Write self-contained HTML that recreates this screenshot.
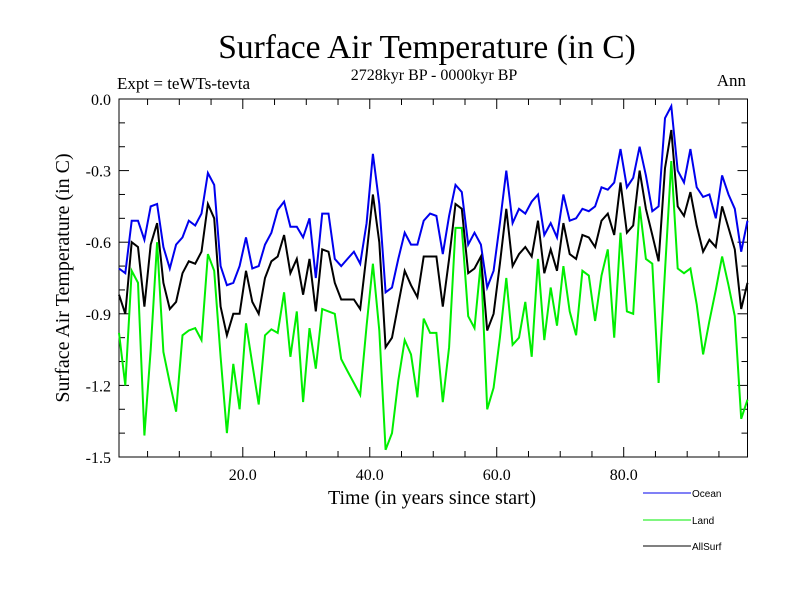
<!DOCTYPE html>
<html><head><meta charset="utf-8"><style>
body{margin:0;background:#fff}
svg text{font-family:"Liberation Serif",serif}
</style></head><body>
<svg id="chart" width="800" height="600" xmlns="http://www.w3.org/2000/svg">
<rect width="800" height="600" fill="#fff"/>
<text x="427" y="58" font-size="33.5" text-anchor="middle">Surface Air Temperature (in C)</text>
<text x="434" y="80" font-size="16" text-anchor="middle">2728kyr BP - 0000kyr BP</text>
<text x="117" y="89" font-size="17">Expt = teWTs-tevta</text>
<text x="746" y="86" font-size="17" text-anchor="end">Ann</text>
<text x="432" y="504" font-size="20" text-anchor="middle">Time (in years since start)</text>
<text transform="translate(69,278) rotate(-90)" font-size="20" text-anchor="middle">Surface Air Temperature (in C)</text>
<g id="axes"></g>
<g id="series"></g>
<g id="legend"></g>
</svg>
<script>
const ocean=[-0.71,-0.73,-0.51,-0.51,-0.59,-0.45,-0.44,-0.62,-0.71,-0.61,-0.58,-0.51,-0.53,-0.48,-0.31,-0.36,-0.70,-0.78,-0.77,-0.70,-0.58,-0.71,-0.70,-0.61,-0.56,-0.465,-0.43,-0.535,-0.535,-0.58,-0.50,-0.75,-0.48,-0.48,-0.67,-0.70,-0.67,-0.64,-0.69,-0.52,-0.23,-0.44,-0.81,-0.79,-0.67,-0.56,-0.61,-0.61,-0.51,-0.48,-0.49,-0.65,-0.49,-0.36,-0.39,-0.61,-0.56,-0.61,-0.79,-0.72,-0.52,-0.30,-0.52,-0.46,-0.48,-0.43,-0.40,-0.57,-0.52,-0.58,-0.40,-0.51,-0.50,-0.46,-0.47,-0.45,-0.37,-0.38,-0.35,-0.21,-0.37,-0.33,-0.20,-0.32,-0.47,-0.45,-0.08,-0.03,-0.30,-0.35,-0.21,-0.37,-0.41,-0.40,-0.50,-0.32,-0.40,-0.46,-0.64,-0.51];
const land=[-0.98,-1.20,-0.72,-0.77,-1.41,-1.05,-0.60,-1.06,-1.19,-1.31,-0.99,-0.97,-0.96,-1.01,-0.65,-0.72,-1.08,-1.40,-1.11,-1.30,-0.94,-1.11,-1.28,-0.99,-0.965,-0.98,-0.81,-1.08,-0.89,-1.27,-0.96,-1.13,-0.88,-0.89,-0.90,-1.09,-1.14,-1.19,-1.24,-0.95,-0.69,-0.97,-1.47,-1.40,-1.18,-1.01,-1.07,-1.25,-0.92,-0.98,-0.98,-1.27,-1.04,-0.54,-0.54,-0.91,-0.96,-0.68,-1.30,-1.21,-1.00,-0.75,-1.03,-1.00,-0.85,-1.08,-0.67,-1.01,-0.79,-0.95,-0.70,-0.89,-0.99,-0.72,-0.74,-0.93,-0.74,-0.63,-1.00,-0.56,-0.89,-0.90,-0.45,-0.67,-0.69,-1.19,-0.72,-0.26,-0.71,-0.73,-0.71,-0.86,-1.07,-0.93,-0.80,-0.66,-0.78,-0.91,-1.34,-1.26];
const allSurf=[-0.82,-0.90,-0.60,-0.62,-0.87,-0.61,-0.52,-0.77,-0.88,-0.85,-0.73,-0.68,-0.69,-0.64,-0.44,-0.50,-0.87,-0.99,-0.90,-0.90,-0.72,-0.85,-0.90,-0.75,-0.68,-0.66,-0.57,-0.73,-0.67,-0.82,-0.67,-0.89,-0.63,-0.64,-0.77,-0.84,-0.84,-0.84,-0.88,-0.65,-0.40,-0.60,-1.04,-1.00,-0.86,-0.72,-0.78,-0.83,-0.66,-0.66,-0.66,-0.87,-0.67,-0.44,-0.46,-0.73,-0.71,-0.66,-0.97,-0.90,-0.69,-0.46,-0.70,-0.65,-0.62,-0.66,-0.51,-0.73,-0.63,-0.72,-0.52,-0.65,-0.67,-0.57,-0.58,-0.62,-0.51,-0.48,-0.57,-0.35,-0.56,-0.53,-0.30,-0.46,-0.57,-0.68,-0.29,-0.13,-0.45,-0.49,-0.39,-0.53,-0.64,-0.59,-0.62,-0.45,-0.54,-0.63,-0.88,-0.77];
const xTickLabels=["20.0","40.0","60.0","80.0"];
const xTickValues=[20,40,60,80];
const yTickValues=[0,-0.3,-0.6,-0.9,-1.2,-1.5];
const yTickLabels=["0.0","-0.3","-0.6","-0.9","-1.2","-1.5"];

const L=119,R=747.5,T=99,B=457,X0=0.5,X1=99.5,Y0=-1.5,Y1=0;
const sx=v=>L+(v-X0)/(X1-X0)*(R-L);
const sy=v=>B-(v-Y0)/(Y1-Y0)*(B-T);
const NS="http://www.w3.org/2000/svg";
function mk(tag,attrs,parent){const e=document.createElementNS(NS,tag);for(const k in attrs)e.setAttribute(k,attrs[k]);parent.appendChild(e);return e;}
const axes=document.getElementById('axes');
const frame=mk('rect',{x:L,y:T,width:R-L,height:B-T,fill:'none',stroke:'#000','stroke-width':1},axes);


for(let v=5;v<100;v+=5){
  const maj=v%20===0, len=maj?10:6, x=sx(v);
  mk('line',{x1:x,y1:B,x2:x,y2:B-len,stroke:'#000'},axes);
  mk('line',{x1:x,y1:T,x2:x,y2:T+len,stroke:'#000'},axes);
}
xTickValues.forEach((v,i)=>{
  const t=mk('text',{x:sx(v),y:B+23,'font-size':16,'text-anchor':'middle'},axes);
  t.textContent=xTickLabels[i];
  
  
});
for(let k=0;k<=15;k++){
  const v=-k/10, maj=k%3===0, len=maj?10:6, y=sy(v);
  mk('line',{x1:L,y1:y,x2:L+len,y2:y,stroke:'#000'},axes);
  mk('line',{x1:R,y1:y,x2:R-len,y2:y,stroke:'#000'},axes);
}
yTickValues.forEach((v,i)=>{
  const t=mk('text',{x:L-8,y:sy(v)+6,'font-size':16,'text-anchor':'end'},axes);
  t.textContent=yTickLabels[i];
  
  
});
const ser=document.getElementById('series');
function line(data,color,name){
  const pts=data.map((v,i)=>sx(i+0.5).toFixed(1)+','+sy(v).toFixed(1)).join(' ');
  const p=mk('polyline',{points:pts,fill:'none',stroke:color,'stroke-width':2,'stroke-linejoin':'miter'},ser);
  
  
}
line(land,'#00ee00','land-line');
line(ocean,'#0000ee','ocean-line');
line(allSurf,'#000','allsurf-line');
const leg=document.getElementById('legend');
[['Ocean','#0000ee',493],['Land','#00ee00',520],['AllSurf','#000',546]].forEach(([n,c,y])=>{
  const g=mk('g',{},leg);
  
  
  mk('line',{x1:643,y1:y,x2:691,y2:y,stroke:c,'stroke-width':1},g);
  const t=mk('text',{x:692,y:y+4,'font-size':10,style:'font-family:"Liberation Sans",sans-serif'},g);
  t.textContent=n;
});
</script>
</body></html>
